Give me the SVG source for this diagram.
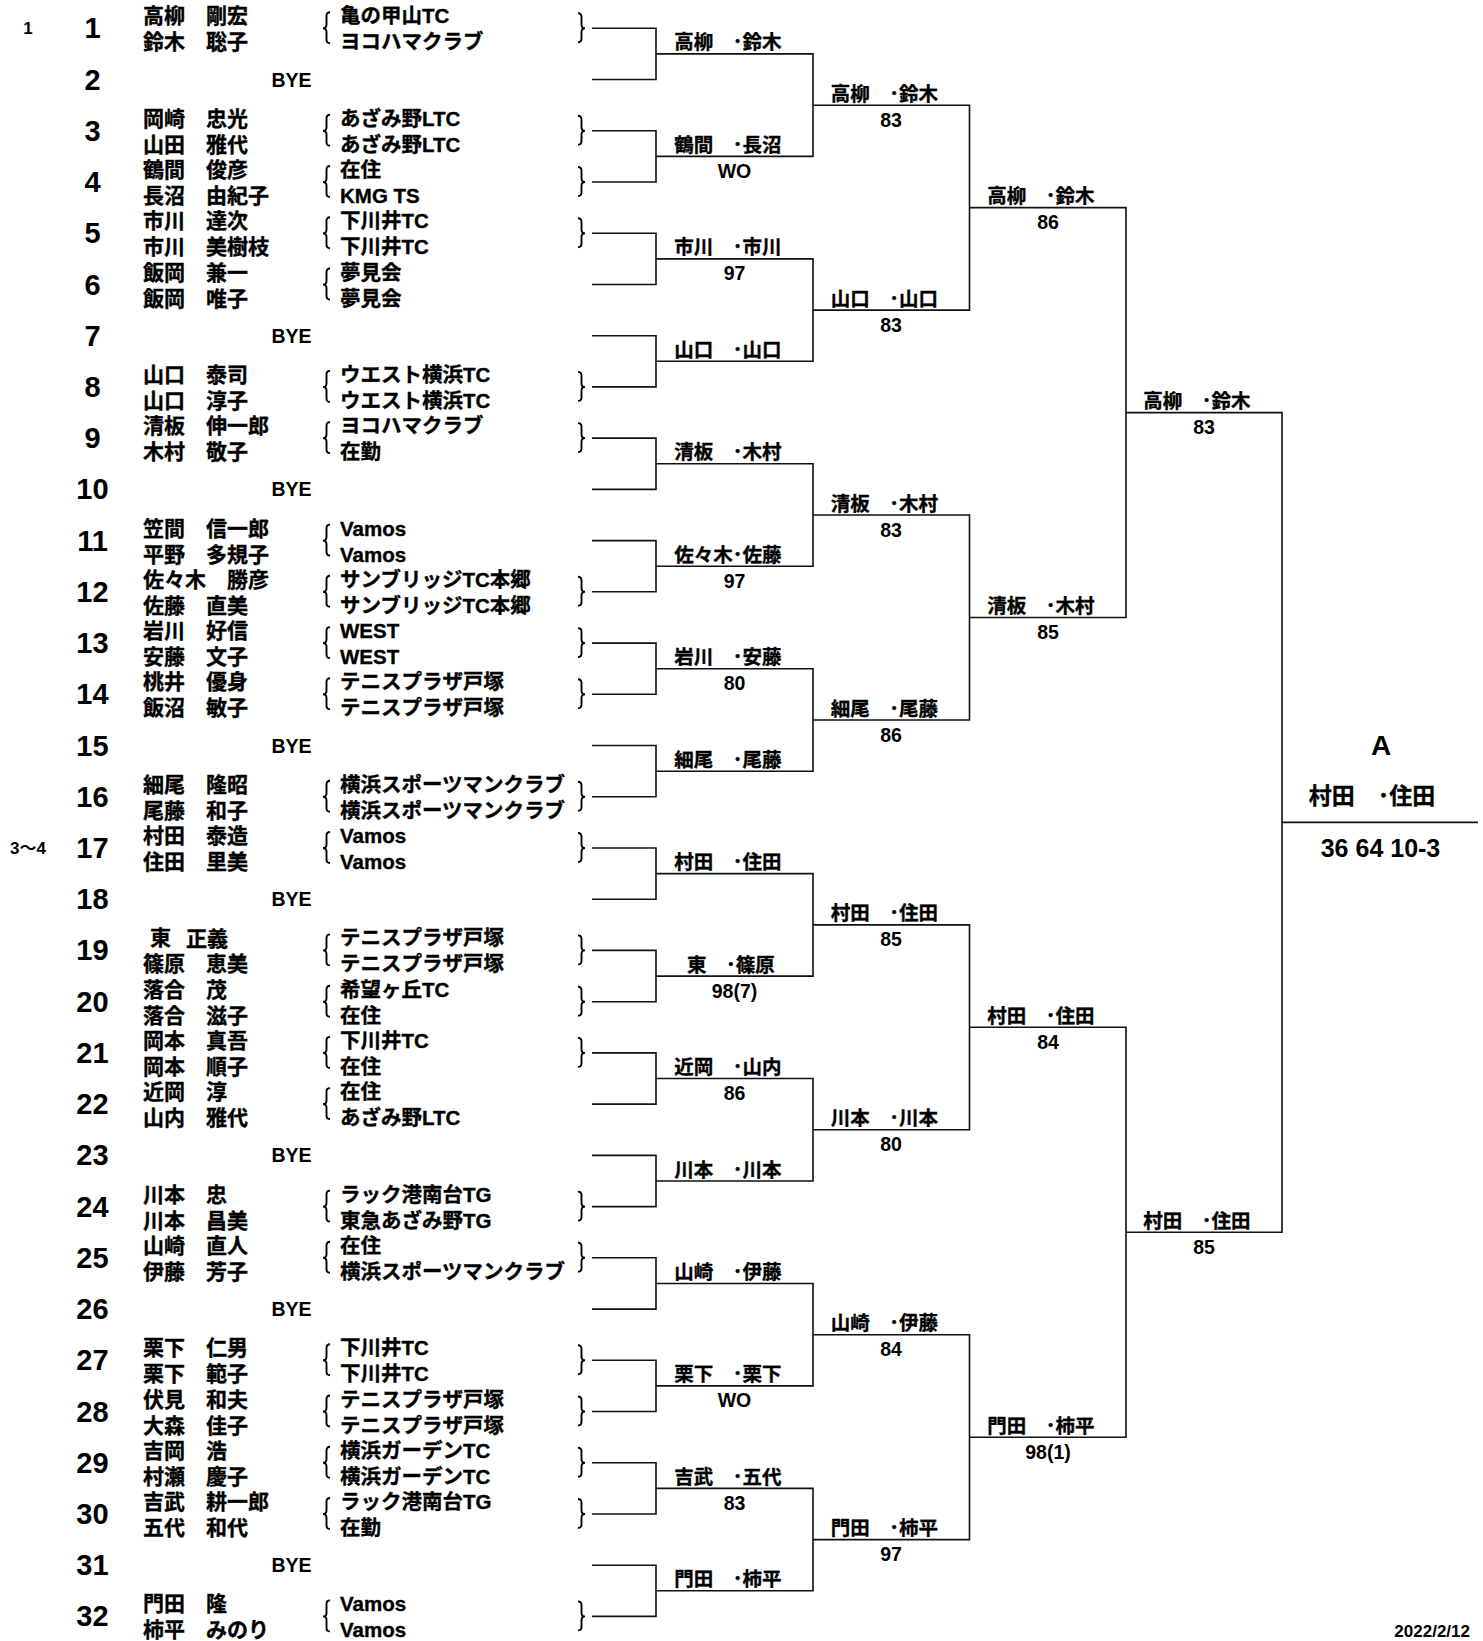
<svg xmlns="http://www.w3.org/2000/svg" xmlns:xlink="http://www.w3.org/1999/xlink" width="1483" height="1641" viewBox="0 0 1483 1641">
<style>
text{font-family:"Liberation Sans","Noto Sans CJK JP",sans-serif;font-weight:bold;fill:#000;stroke:#000;stroke-width:0.35;dominant-baseline:central}
.num{font-size:29px;text-anchor:middle;stroke-width:0}
.seed{font-size:17px;text-anchor:middle;stroke-width:0}
.nm{font-size:21px}
.cl{font-size:20.5px}
.bye{font-size:19.5px;text-anchor:middle;stroke-width:0}
.lbl{font-size:19.5px;text-anchor:middle}
.sc{font-size:19.5px;text-anchor:middle;stroke-width:0}
.fin{font-size:23px;text-anchor:middle}
.fa{font-size:28px;text-anchor:middle;stroke-width:0}
.fs{font-size:25px;text-anchor:middle;stroke-width:0}
.date{font-size:17px;text-anchor:end;stroke-width:0}
.br{fill:none;stroke:#000;stroke-width:1.9}
#connectors path{fill:none;stroke:#111;stroke-width:1.6}
</style>
<defs>
<path id="lb" class="br" d="M7 -16Q3.5 -16 3.5 -12.5V-3.5Q3.5 0 0 0Q3.5 0 3.5 3.5V11.5Q3.5 15 7 15"/>
<path id="rb" class="br" d="M0 -15Q3.5 -15 3.5 -11.5V-3.5Q3.5 0 7 0Q3.5 0 3.5 3.5V10.5Q3.5 14 0 14"/>
</defs>
<rect width="1483" height="1641" fill="#fff"/>

<g id="seeds">
<text class="seed" x="28" y="28.3">1</text>
<text class="seed" x="28" y="848">3～4</text>
</g>

<g id="slot-1"><text class="num" x="92.5" y="28.3">1</text><text class="nm" x="143" y="15.8">高柳　剛宏</text><text class="nm" x="143" y="41.8">鈴木　聡子</text><use href="#lb" x="323" y="28.3"/><text class="cl" x="340" y="15.8">亀の甲山TC</text><text class="cl" x="340" y="41.8">ヨコハマクラブ</text><use href="#rb" x="578" y="28.3"/></g>
<g id="slot-2"><text class="num" x="92.5" y="79.5">2</text><text class="bye" x="291.5" y="79.5">BYE</text></g>
<g id="slot-3"><text class="num" x="92.5" y="130.8">3</text><text class="nm" x="143" y="118.3">岡崎　忠光</text><text class="nm" x="143" y="144.3">山田　雅代</text><use href="#lb" x="323" y="130.8"/><text class="cl" x="340" y="118.3">あざみ野LTC</text><text class="cl" x="340" y="144.3">あざみ野LTC</text><use href="#rb" x="578" y="130.8"/></g>
<g id="slot-4"><text class="num" x="92.5" y="182">4</text><text class="nm" x="143" y="169.5">鶴間　俊彦</text><text class="nm" x="143" y="195.5">長沼　由紀子</text><use href="#lb" x="323" y="182"/><text class="cl" x="340" y="169.5">在住</text><text class="cl" x="340" y="195.5">KMG TS</text><use href="#rb" x="578" y="182"/></g>
<g id="slot-5"><text class="num" x="92.5" y="233.2">5</text><text class="nm" x="143" y="220.7">市川　達次</text><text class="nm" x="143" y="246.7">市川　美樹枝</text><use href="#lb" x="323" y="233.2"/><text class="cl" x="340" y="220.7">下川井TC</text><text class="cl" x="340" y="246.7">下川井TC</text><use href="#rb" x="578" y="233.2"/></g>
<g id="slot-6"><text class="num" x="92.5" y="284.5">6</text><text class="nm" x="143" y="272">飯岡　兼一</text><text class="nm" x="143" y="298">飯岡　唯子</text><use href="#lb" x="323" y="284.5"/><text class="cl" x="340" y="272">夢見会</text><text class="cl" x="340" y="298">夢見会</text></g>
<g id="slot-7"><text class="num" x="92.5" y="335.7">7</text><text class="bye" x="291.5" y="335.7">BYE</text></g>
<g id="slot-8"><text class="num" x="92.5" y="386.9">8</text><text class="nm" x="143" y="374.4">山口　泰司</text><text class="nm" x="143" y="400.4">山口　淳子</text><use href="#lb" x="323" y="386.9"/><text class="cl" x="340" y="374.4">ウエスト横浜TC</text><text class="cl" x="340" y="400.4">ウエスト横浜TC</text><use href="#rb" x="578" y="386.9"/></g>
<g id="slot-9"><text class="num" x="92.5" y="438.1">9</text><text class="nm" x="143" y="425.6">清板　伸一郎</text><text class="nm" x="143" y="451.6">木村　敬子</text><use href="#lb" x="323" y="438.1"/><text class="cl" x="340" y="425.6">ヨコハマクラブ</text><text class="cl" x="340" y="451.6">在勤</text><use href="#rb" x="578" y="438.1"/></g>
<g id="slot-10"><text class="num" x="92.5" y="489.4">10</text><text class="bye" x="291.5" y="489.4">BYE</text></g>
<g id="slot-11"><text class="num" x="92.5" y="540.6">11</text><text class="nm" x="143" y="528.1">笠間　信一郎</text><text class="nm" x="143" y="554.1">平野　多規子</text><use href="#lb" x="323" y="540.6"/><text class="cl" x="340" y="528.1">Vamos</text><text class="cl" x="340" y="554.1">Vamos</text></g>
<g id="slot-12"><text class="num" x="92.5" y="591.8">12</text><text class="nm" x="143" y="579.3">佐々木　勝彦</text><text class="nm" x="143" y="605.3">佐藤　直美</text><use href="#lb" x="323" y="591.8"/><text class="cl" x="340" y="579.3">サンブリッジTC本郷</text><text class="cl" x="340" y="605.3">サンブリッジTC本郷</text><use href="#rb" x="578" y="591.8"/></g>
<g id="slot-13"><text class="num" x="92.5" y="643.1">13</text><text class="nm" x="143" y="630.6">岩川　好信</text><text class="nm" x="143" y="656.6">安藤　文子</text><use href="#lb" x="323" y="643.1"/><text class="cl" x="340" y="630.6">WEST</text><text class="cl" x="340" y="656.6">WEST</text><use href="#rb" x="578" y="643.1"/></g>
<g id="slot-14"><text class="num" x="92.5" y="694.3">14</text><text class="nm" x="143" y="681.8">桃井　優身</text><text class="nm" x="143" y="707.8">飯沼　敏子</text><use href="#lb" x="323" y="694.3"/><text class="cl" x="340" y="681.8">テニスプラザ戸塚</text><text class="cl" x="340" y="707.8">テニスプラザ戸塚</text><use href="#rb" x="578" y="694.3"/></g>
<g id="slot-15"><text class="num" x="92.5" y="745.5">15</text><text class="bye" x="291.5" y="745.5">BYE</text></g>
<g id="slot-16"><text class="num" x="92.5" y="796.8">16</text><text class="nm" x="143" y="784.3">細尾　隆昭</text><text class="nm" x="143" y="810.3">尾藤　和子</text><use href="#lb" x="323" y="796.8"/><text class="cl" x="340" y="784.3">横浜スポーツマンクラブ</text><text class="cl" x="340" y="810.3">横浜スポーツマンクラブ</text><use href="#rb" x="578" y="796.8"/></g>
<g id="slot-17"><text class="num" x="92.5" y="848">17</text><text class="nm" x="143" y="835.5">村田　泰造</text><text class="nm" x="143" y="861.5">住田　里美</text><use href="#lb" x="323" y="848"/><text class="cl" x="340" y="835.5">Vamos</text><text class="cl" x="340" y="861.5">Vamos</text><use href="#rb" x="578" y="848"/></g>
<g id="slot-18"><text class="num" x="92.5" y="899.2">18</text><text class="bye" x="291.5" y="899.2">BYE</text></g>
<g id="slot-19"><text class="num" x="92.5" y="950.4">19</text><text class="nm" x="150" y="937.9">東<tspan x="186">正義</tspan></text><text class="nm" x="143" y="963.9">篠原　恵美</text><use href="#lb" x="323" y="950.4"/><text class="cl" x="340" y="937.9">テニスプラザ戸塚</text><text class="cl" x="340" y="963.9">テニスプラザ戸塚</text><use href="#rb" x="578" y="950.4"/></g>
<g id="slot-20"><text class="num" x="92.5" y="1001.7">20</text><text class="nm" x="143" y="989.2">落合　茂</text><text class="nm" x="143" y="1015.2">落合　滋子</text><use href="#lb" x="323" y="1001.7"/><text class="cl" x="340" y="989.2">希望ヶ丘TC</text><text class="cl" x="340" y="1015.2">在住</text><use href="#rb" x="578" y="1001.7"/></g>
<g id="slot-21"><text class="num" x="92.5" y="1052.9">21</text><text class="nm" x="143" y="1040.4">岡本　真吾</text><text class="nm" x="143" y="1066.4">岡本　順子</text><use href="#lb" x="323" y="1052.9"/><text class="cl" x="340" y="1040.4">下川井TC</text><text class="cl" x="340" y="1066.4">在住</text><use href="#rb" x="578" y="1052.9"/></g>
<g id="slot-22"><text class="num" x="92.5" y="1104.1">22</text><text class="nm" x="143" y="1091.6">近岡　淳</text><text class="nm" x="143" y="1117.6">山内　雅代</text><use href="#lb" x="323" y="1104.1"/><text class="cl" x="340" y="1091.6">在住</text><text class="cl" x="340" y="1117.6">あざみ野LTC</text></g>
<g id="slot-23"><text class="num" x="92.5" y="1155.4">23</text><text class="bye" x="291.5" y="1155.4">BYE</text></g>
<g id="slot-24"><text class="num" x="92.5" y="1206.6">24</text><text class="nm" x="143" y="1194.1">川本　忠</text><text class="nm" x="143" y="1220.1">川本　昌美</text><use href="#lb" x="323" y="1206.6"/><text class="cl" x="340" y="1194.1">ラック港南台TG</text><text class="cl" x="340" y="1220.1">東急あざみ野TG</text><use href="#rb" x="578" y="1206.6"/></g>
<g id="slot-25"><text class="num" x="92.5" y="1257.8">25</text><text class="nm" x="143" y="1245.3">山崎　直人</text><text class="nm" x="143" y="1271.3">伊藤　芳子</text><use href="#lb" x="323" y="1257.8"/><text class="cl" x="340" y="1245.3">在住</text><text class="cl" x="340" y="1271.3">横浜スポーツマンクラブ</text><use href="#rb" x="578" y="1257.8"/></g>
<g id="slot-26"><text class="num" x="92.5" y="1309.1">26</text><text class="bye" x="291.5" y="1309.1">BYE</text></g>
<g id="slot-27"><text class="num" x="92.5" y="1360.3">27</text><text class="nm" x="143" y="1347.8">栗下　仁男</text><text class="nm" x="143" y="1373.8">栗下　範子</text><use href="#lb" x="323" y="1360.3"/><text class="cl" x="340" y="1347.8">下川井TC</text><text class="cl" x="340" y="1373.8">下川井TC</text><use href="#rb" x="578" y="1360.3"/></g>
<g id="slot-28"><text class="num" x="92.5" y="1411.5">28</text><text class="nm" x="143" y="1399">伏見　和夫</text><text class="nm" x="143" y="1425">大森　佳子</text><use href="#lb" x="323" y="1411.5"/><text class="cl" x="340" y="1399">テニスプラザ戸塚</text><text class="cl" x="340" y="1425">テニスプラザ戸塚</text><use href="#rb" x="578" y="1411.5"/></g>
<g id="slot-29"><text class="num" x="92.5" y="1462.8">29</text><text class="nm" x="143" y="1450.3">吉岡　浩</text><text class="nm" x="143" y="1476.3">村瀬　慶子</text><use href="#lb" x="323" y="1462.8"/><text class="cl" x="340" y="1450.3">横浜ガーデンTC</text><text class="cl" x="340" y="1476.3">横浜ガーデンTC</text><use href="#rb" x="578" y="1462.8"/></g>
<g id="slot-30"><text class="num" x="92.5" y="1514">30</text><text class="nm" x="143" y="1501.5">吉武　耕一郎</text><text class="nm" x="143" y="1527.5">五代　和代</text><use href="#lb" x="323" y="1514"/><text class="cl" x="340" y="1501.5">ラック港南台TG</text><text class="cl" x="340" y="1527.5">在勤</text><use href="#rb" x="578" y="1514"/></g>
<g id="slot-31"><text class="num" x="92.5" y="1565.2">31</text><text class="bye" x="291.5" y="1565.2">BYE</text></g>
<g id="slot-32"><text class="num" x="92.5" y="1616.4">32</text><text class="nm" x="143" y="1603.9">門田　隆</text><text class="nm" x="143" y="1629.9">柿平　みのり</text><use href="#lb" x="323" y="1616.4"/><text class="cl" x="340" y="1603.9">Vamos</text><text class="cl" x="340" y="1629.9">Vamos</text><use href="#rb" x="578" y="1616.4"/></g>

<g id="connectors">
<path d="M592 28.3H656V79.5H592M592 130.8H656V182H592M592 233.2H656V284.5H592M592 335.7H656V386.9H592M592 438.1H656V489.4H592M592 540.6H656V591.8H592M592 643.1H656V694.3H592M592 745.5H656V796.8H592M592 848H656V899.2H592M592 950.4H656V1001.7H592M592 1052.9H656V1104.1H592M592 1155.4H656V1206.6H592M592 1257.8H656V1309.1H592M592 1360.3H656V1411.5H592M592 1462.8H656V1514H592M592 1565.2H656V1616.4H592"/>
<path d="M656 53.9H813V156.4H656M656 258.9H813V361.3H656M656 463.8H813V566.2H656M656 668.7H813V771.2H656M656 873.6H813V976.1H656M656 1078.5H813V1181H656M656 1283.5H813V1385.9H656M656 1488.4H813V1590.8H656"/>
<path d="M813 105.2H969.5V310.1H813M813 515H969.5V720H813M813 924.9H969.5V1129.8H813M813 1334.7H969.5V1539.6H813"/>
<path d="M969.5 207.6H1126V617.5H969.5M969.5 1027.3H1126V1437.2H969.5"/>
<path d="M1126 412.6H1282V1232.2H1126"/>
<path d="M1282 822.4H1478"/>
</g>

<g id="round2">
<g id="r2-1"><text class="lbl" x="728" y="42.4">高柳　･鈴木</text></g>
<g id="r2-2"><text class="lbl" x="728" y="144.9">鶴間　･長沼</text><text class="sc" x="734.5" y="170.9">WO</text></g>
<g id="r2-3"><text class="lbl" x="728" y="247.4">市川　･市川</text><text class="sc" x="734.5" y="273.4">97</text></g>
<g id="r2-4"><text class="lbl" x="728" y="349.8">山口　･山口</text></g>
<g id="r2-5"><text class="lbl" x="728" y="452.3">清板　･木村</text></g>
<g id="r2-6"><text class="lbl" x="728" y="554.7">佐々木･佐藤</text><text class="sc" x="734.5" y="580.7">97</text></g>
<g id="r2-7"><text class="lbl" x="728" y="657.2">岩川　･安藤</text><text class="sc" x="734.5" y="683.2">80</text></g>
<g id="r2-8"><text class="lbl" x="728" y="759.7">細尾　･尾藤</text></g>
<g id="r2-9"><text class="lbl" x="728" y="862.1">村田　･住田</text></g>
<g id="r2-10"><text class="lbl" x="731" y="964.6">東　･篠原</text><text class="sc" x="734.5" y="990.6">98(7)</text></g>
<g id="r2-11"><text class="lbl" x="728" y="1067">近岡　･山内</text><text class="sc" x="734.5" y="1093">86</text></g>
<g id="r2-12"><text class="lbl" x="728" y="1169.5">川本　･川本</text></g>
<g id="r2-13"><text class="lbl" x="728" y="1272">山崎　･伊藤</text></g>
<g id="r2-14"><text class="lbl" x="728" y="1374.4">栗下　･栗下</text><text class="sc" x="734.5" y="1400.4">WO</text></g>
<g id="r2-15"><text class="lbl" x="728" y="1476.9">吉武　･五代</text><text class="sc" x="734.5" y="1502.9">83</text></g>
<g id="r2-16"><text class="lbl" x="728" y="1579.3">門田　･柿平</text></g>
</g>

<g id="round3">
<g id="r3-1"><text class="lbl" x="884.5" y="93.7">高柳　･鈴木</text><text class="sc" x="891" y="119.7">83</text></g>
<g id="r3-2"><text class="lbl" x="884.5" y="298.6">山口　･山口</text><text class="sc" x="891" y="324.6">83</text></g>
<g id="r3-3"><text class="lbl" x="884.5" y="503.5">清板　･木村</text><text class="sc" x="891" y="529.5">83</text></g>
<g id="r3-4"><text class="lbl" x="884.5" y="708.5">細尾　･尾藤</text><text class="sc" x="891" y="734.5">86</text></g>
<g id="r3-5"><text class="lbl" x="884.5" y="913.4">村田　･住田</text><text class="sc" x="891" y="939.4">85</text></g>
<g id="r3-6"><text class="lbl" x="884.5" y="1118.3">川本　･川本</text><text class="sc" x="891" y="1144.3">80</text></g>
<g id="r3-7"><text class="lbl" x="884.5" y="1323.2">山崎　･伊藤</text><text class="sc" x="891" y="1349.2">84</text></g>
<g id="r3-8"><text class="lbl" x="884.5" y="1528.1">門田　･柿平</text><text class="sc" x="891" y="1554.1">97</text></g>
</g>

<g id="round4">
<g id="r4-1"><text class="lbl" x="1041" y="196.1">高柳　･鈴木</text><text class="sc" x="1048" y="222.1">86</text></g>
<g id="r4-2"><text class="lbl" x="1041" y="606">清板　･木村</text><text class="sc" x="1048" y="632">85</text></g>
<g id="r4-3"><text class="lbl" x="1041" y="1015.8">村田　･住田</text><text class="sc" x="1048" y="1041.8">84</text></g>
<g id="r4-4"><text class="lbl" x="1041" y="1425.7">門田　･柿平</text><text class="sc" x="1048" y="1451.7">98(1)</text></g>
</g>

<g id="round5">
<g id="r5-1"><text class="lbl" x="1197" y="401.1">高柳　･鈴木</text><text class="sc" x="1204" y="427.1">83</text></g>
<g id="r5-2"><text class="lbl" x="1197" y="1220.7">村田　･住田</text><text class="sc" x="1204" y="1246.7">85</text></g>
</g>

<g id="final">
<text class="fa" x="1381" y="745">A</text>
<text class="fin" x="1372" y="796">村田　･住田</text>
<text class="fs" x="1380.5" y="847.5">36 64 10-3</text>
</g>

<text class="date" x="1470" y="1631">2022/2/12</text>
</svg>
